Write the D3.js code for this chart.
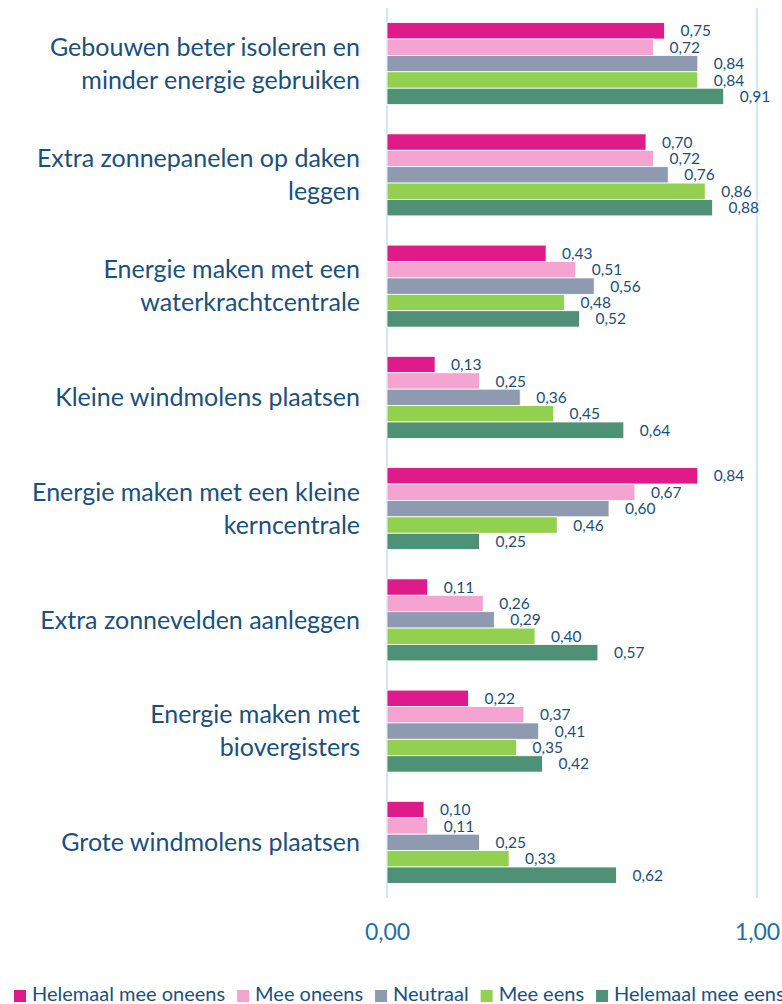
<!DOCTYPE html>
<html>
<head>
<meta charset="utf-8">
<script src="https://cdn.jsdelivr.net/npm/d3@7"></script>
<style>
  body { margin: 0; background: white; }
  svg text { font-family: Lato, "Noto Sans", sans-serif; }
</style>
</head>
<body>
<div id="chart"></div>
<script>
// categories, each label split in lines
var categories = [
    ["Gebouwen beter isoleren en", "minder energie gebruiken"],
    ["Extra zonnepanelen op daken", "leggen"],
    ["Energie maken met een", "waterkrachtcentrale"],
    ["Kleine windmolens plaatsen"],
    ["Energie maken met een kleine", "kerncentrale"],
    ["Extra zonnevelden aanleggen"],
    ["Energie maken met", "biovergisters"],
    ["Grote windmolens plaatsen"]
];
var seriesNames = ["Helemaal mee oneens", "Mee oneens", "Neutraal", "Mee eens", "Helemaal mee eens"];
var seriesColors = ["#df1a8b", "#f5a3d0", "#8e9aaf", "#92d14f", "#4f9176"];

var helemaalOneens = [0.75, 0.70, 0.43, 0.13, 0.84, 0.11, 0.22, 0.10];
var meeOneens      = [0.72, 0.72, 0.51, 0.25, 0.67, 0.26, 0.37, 0.11];
var neutraal       = [0.84, 0.76, 0.56, 0.36, 0.60, 0.29, 0.41, 0.25];
var meeEens        = [0.84, 0.86, 0.48, 0.45, 0.46, 0.40, 0.35, 0.33];
var helemaalEens   = [0.91, 0.88, 0.52, 0.64, 0.25, 0.57, 0.42, 0.62];
var seriesValues = [helemaalOneens, meeOneens, neutraal, meeEens, helemaalEens];

var tickValues = [0, 1];

var fmt = function(v) { return v.toFixed(2).replace(".", ","); };

var svg = d3.select("#chart")
    .append("svg")
    .attr("width", 782)
    .attr("height", 1004);

var x = d3.scaleLinear().domain([0, 1]).range([387, 757]);
var y = d3.scaleBand()
    .domain(d3.range(categories.length))
    .range([8, 898])
    .paddingInner(0.263)
    .paddingOuter(0.1315);
var ySub = d3.scaleBand()
    .domain(d3.range(seriesNames.length))
    .range([0, y.bandwidth()]);

// gridlines
svg.append("g")
    .selectAll("line")
    .data(tickValues)
    .join("line")
    .attr("x1", d => x(d))
    .attr("x2", d => x(d))
    .attr("y1", 8)
    .attr("y2", 898)
    .style("stroke", "#cfe7f8")
    .style("stroke-width", 2);

// bars
var groups = svg.append("g")
    .selectAll("g")
    .data(categories)
    .join("g")
    .attr("transform", (d, i) => "translate(0," + y(i) + ")");

groups.each(function(c, ci) {
    var g = d3.select(this);
    seriesValues.forEach(function(vals, si) {
        g.append("rect")
            .attr("x", x(0))
            .attr("y", ySub(si))
            .attr("width", x(vals[ci]) - x(0))
            .attr("height", ySub.bandwidth())
            .style("fill", seriesColors[si])
            .style("stroke", "#ffffff")
            .style("stroke-width", 0.8);
        g.append("text")
            .attr("x", x(vals[ci]) + 16)
            .attr("y", ySub(si) + ySub.bandwidth() / 2)
            .attr("dy", "0.36em")
            .attr("font-size", "15.5px")
            .style("fill", "#1d4e7a")
            .text(fmt(vals[ci]));
    });
    var lines = c;
    var lh = 33;
    var t = g.append("text")
        .attr("text-anchor", "end")
        .attr("font-size", "25px")
        .style("fill", "#1b4f7d");
    lines.forEach(function(l, li) {
        t.append("tspan")
            .attr("x", 360)
            .attr("y", y.bandwidth() / 2 + (li - (lines.length - 1) / 2) * lh)
            .attr("dy", "0.35em")
            .text(l);
    });
});

// x axis tick labels
var xAxis = d3.axisBottom(x).tickValues(tickValues).tickFormat(fmt).tickSize(0);
var ax = svg.append("g")
    .attr("transform", "translate(0,921)")
    .call(xAxis);
ax.select(".domain").remove();
ax.selectAll("text")
    .attr("font-size", "23px")
    .style("font-family", "Lato, 'Noto Sans', sans-serif")
    .style("fill", "#1f6fa6");

// legend
var legend = svg.append("g").attr("transform", "translate(14,1001)");
var lx = 0;
seriesNames.forEach(function(name, i) {
    var item = legend.append("g").attr("transform", "translate(" + lx + ",0)");
    item.append("rect")
        .attr("x", 0)
        .attr("y", -11)
        .attr("width", 12)
        .attr("height", 12)
        .style("fill", seriesColors[i]);
    var tt = item.append("text")
        .attr("x", 18)
        .attr("font-size", "20px")
        .style("fill", "#1b4f7d")
        .text(name);
    lx += 18 + tt.node().getComputedTextLength() + 12;
});
</script>
</body>
</html>
